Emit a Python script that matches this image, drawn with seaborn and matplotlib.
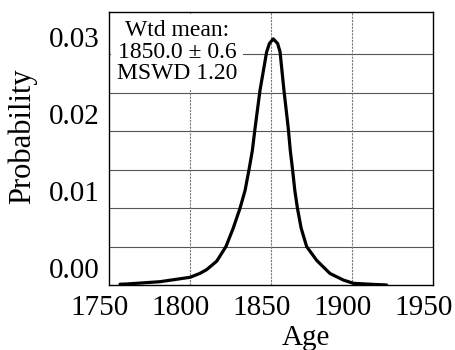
import matplotlib
matplotlib.use("Agg")
import matplotlib.pyplot as plt
import matplotlib.transforms as mtransforms
import seaborn as sns
import pandas as pd

# Data (probability density curve)
age = [1756.8, 1760.9, 1781.5, 1800.0, 1806.0, 1810.3, 1816.5, 1822.2,
       1826.7, 1830.9, 1834.0, 1836.6, 1838.5, 1840.1, 1843.2, 1847.3, 1849.0,
       1851.4, 1854.1, 1855.6, 1858.0, 1860.7, 1861.9, 1863.2, 1864.7, 1866.3,
       1868.6, 1872.0, 1878.2, 1886.4, 1894.6, 1900.8, 1911.1, 1921.4]
prob = [0.0001, 0.00013, 0.00043, 0.0010, 0.0015, 0.0020, 0.0031, 0.0050,
        0.0074, 0.0100, 0.0123, 0.0152, 0.0175, 0.0203, 0.0253, 0.0303, 0.0314,
        0.0320, 0.0314, 0.0303, 0.0253, 0.0203, 0.0175, 0.0152, 0.0123, 0.0100,
        0.0074, 0.0050, 0.0032, 0.0015, 0.00065, 0.00022, 0.0001, 0.0000]
xticks = [1750, 1800, 1850, 1900, 1950]
yticks = [0.00, 0.01, 0.02, 0.03]
ytick_labels = ["0.00", "0.01", "0.02", "0.03"]
grid_y = [0.005, 0.010, 0.015, 0.020, 0.025, 0.030]
annotation = "Wtd mean:\n1850.0 ± 0.6\nMSWD 1.20"

df = pd.DataFrame({"Age": age, "Probability": prob})

sns.set_theme(style="white")
plt.rcParams["font.family"] = ["Liberation Serif", "DejaVu Serif"]

fig = plt.figure(figsize=(4.55, 3.5), dpi=100)
ax = fig.add_axes([109/455, 1 - 285/350, (433 - 109)/455, (285 - 12)/350])

for gy in grid_y:
    ax.axhline(gy, color="#555555", lw=0.8, zorder=0)
for gx in xticks[1:-1]:
    ax.axvline(gx, color="#777777", lw=0.8, ls=(0, (2, 1)), zorder=0)

sns.lineplot(data=df, x="Age", y="Probability", color="black", lw=2.3, ax=ax,
             zorder=3, sort=False)

ax.set_xlim(1750, 1950)
ax.set_ylim(0, 0.0355)
ax.set_xticks(xticks)
ax.set_yticks(yticks)
ax.set_yticklabels(ytick_labels)
ax.tick_params(axis="both", length=0, labelsize=21, colors="black", pad=7)
for s in ax.spines.values():
    s.set_color("black")
    s.set_linewidth(1.0)
    s.set_visible(True)

ax.set_xlabel("Age", fontsize=21, color="black", labelpad=3)
ax.set_ylabel("Probability", fontsize=22, color="black", labelpad=8)
ax.xaxis.label.set_x((306 - 109) / 324)
ax.yaxis.label.set_y((285 - 136) / 273)

# shift tick labels as in the reference
off_y = mtransforms.ScaledTranslation(0, 0.17, fig.dpi_scale_trans)
for lab in ax.get_yticklabels():
    lab.set_transform(lab.get_transform() + off_y)
off_x = mtransforms.ScaledTranslation(-0.09, 0, fig.dpi_scale_trans)
for lab in ax.get_xticklabels():
    lab.set_transform(lab.get_transform() + off_x)

ax.text((177 - 109) / 324, (285 - 52) / 273, annotation, transform=ax.transAxes,
        ha="center", va="center", multialignment="center", fontsize=17,
        color="black", linespacing=1.05, zorder=4,
        bbox=dict(facecolor="white", edgecolor="none", pad=4))

fig.savefig("out.png", dpi=100)
